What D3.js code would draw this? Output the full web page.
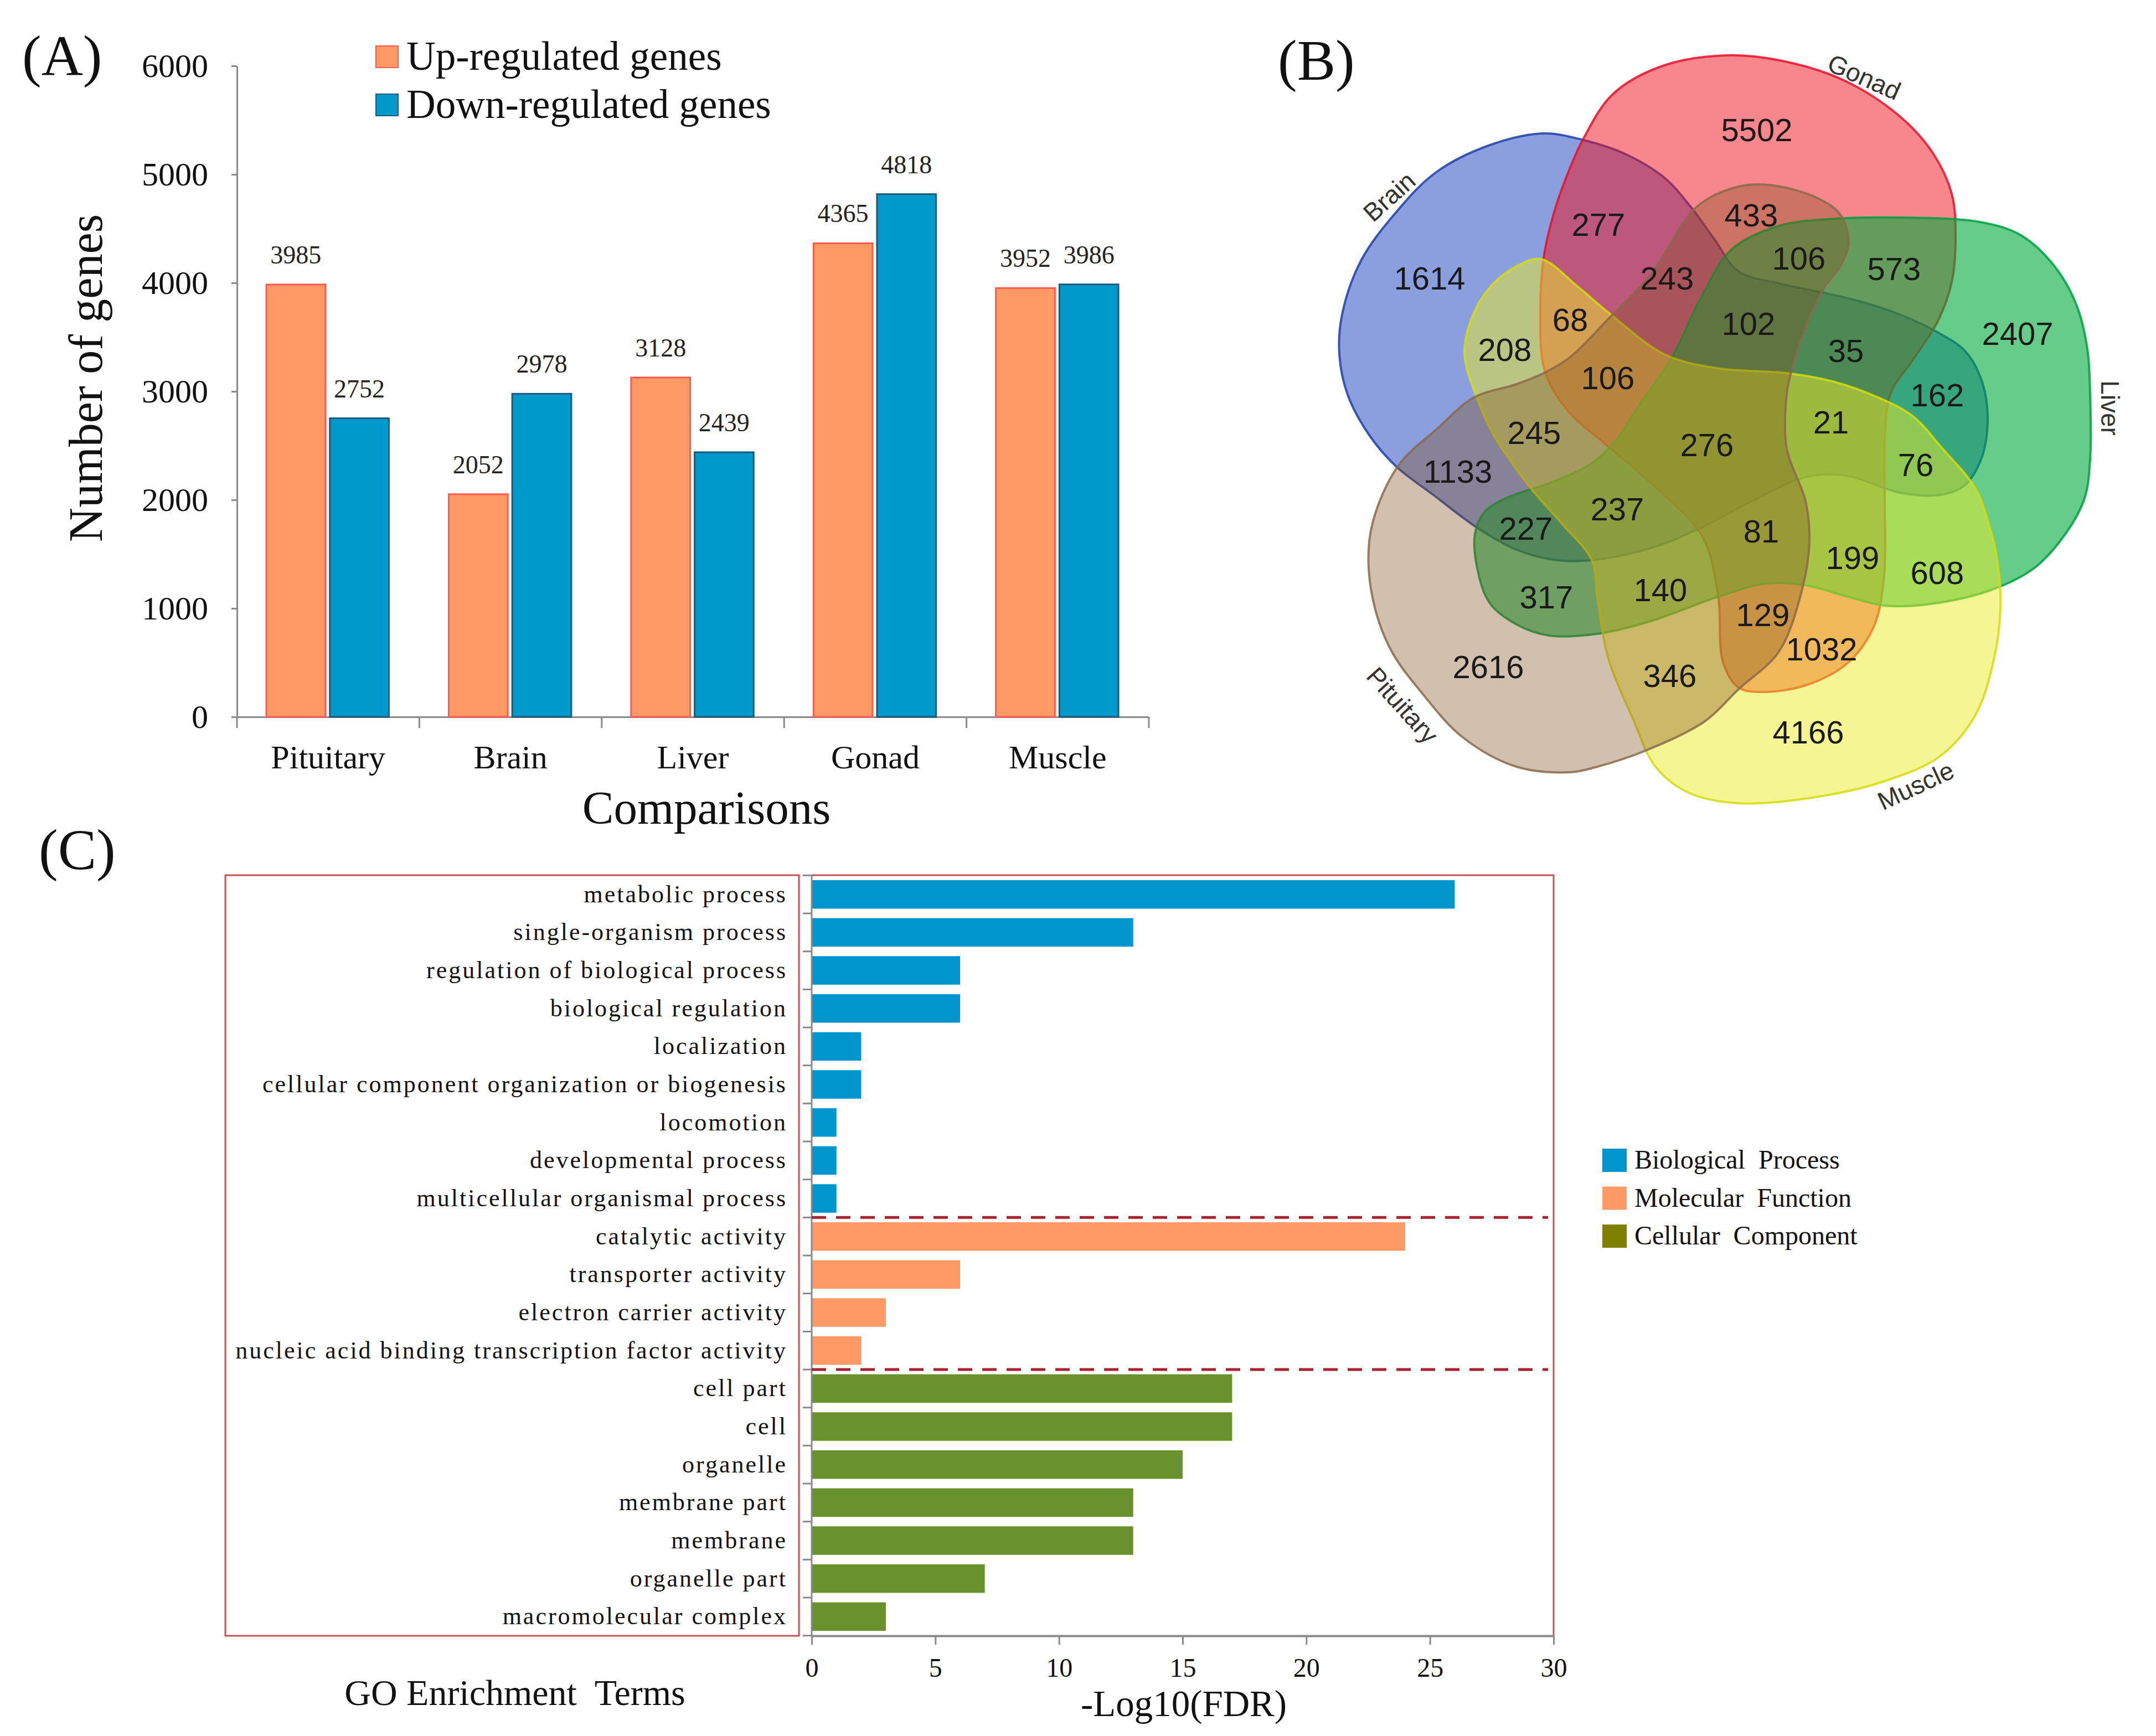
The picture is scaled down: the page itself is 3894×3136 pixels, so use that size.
<!DOCTYPE html>
<html>
<head>
<meta charset="utf-8">
<script src="https://cdn.jsdelivr.net/npm/d3@7"></script>
<style>
  html,body{margin:0;padding:0;background:#fff;}
  svg{display:block;}
</style>
</head>
<body>
<svg id="chart" width="3894" height="3136"></svg>
<script>
// ================= DATA =================
// Panel A
const categories = ["Pituitary", "Brain", "Liver", "Gonad", "Muscle"];
const upRegulated = [3985, 2052, 3128, 4365, 3952];
const downRegulated = [2752, 2978, 2439, 4818, 3986];
const seriesNames = ["Up-regulated genes", "Down-regulated genes"];
const yTicksA = [0, 1000, 2000, 3000, 4000, 5000, 6000];

// Panel B (Venn) – set names and region counts (B=Brain, G=Gonad, L=Liver, M=Muscle, P=Pituitary)
const vennSets = ["Brain", "Gonad", "Liver", "Muscle", "Pituitary"];
const vennRegionCodes = ["B","BG","G","GP","BGP","GLP","GL","L","BL","BGL","BGLP","BM","BGM","BGMP","BMP","BP",
                         "BLP","LP","BLMP","LMP","P","MP","GMP","GM","M","LM","GLM","GLMP","BLM","BGLM","BGLMP"];
const vennRegionCounts = [1614,277,5502,433,243,106,573,2407,162,35,102,208,68,106,245,1133,
                          227,317,237,140,2616,346,129,1032,4166,608,199,81,76,21,276];

// Panel C
const goTerms = ["metabolic process","single-organism process","regulation of biological process","biological regulation",
  "localization","cellular component organization or biogenesis","locomotion","developmental process",
  "multicellular organismal process","catalytic activity","transporter activity","electron carrier activity",
  "nucleic acid binding transcription factor activity","cell part","cell","organelle","membrane part","membrane",
  "organelle part","macromolecular complex"];
const goValues = [26,13,6,6,2,2,1,1,1,24,6,3,2,17,17,15,13,13,7,3];
const goCategory = ["Biological Process","Biological Process","Biological Process","Biological Process","Biological Process",
  "Biological Process","Biological Process","Biological Process","Biological Process",
  "Molecular Function","Molecular Function","Molecular Function","Molecular Function",
  "Cellular Component","Cellular Component","Cellular Component","Cellular Component","Cellular Component",
  "Cellular Component","Cellular Component"];
const goCategoryNames = ["Biological Process","Molecular Function","Cellular Component"];
const xTicksC = [0,5,10,15,20,25,30];

// ================= STYLE / LAYOUT =================
const SERIF = "'Liberation Serif','Times New Roman',serif";
const SANS = "'Liberation Sans',Arial,sans-serif";
const AXIS_GREY = "#8a8a8a";

const svg = d3.select("#chart");
svg.append("rect").attr("width",3894).attr("height",3136).attr("fill","#fff");

// panel letters
const panelLetters = [["(A)",40,136],["(B)",2308,144],["(C)",70,1570]];
svg.selectAll("text.panel").data(panelLetters).join("text")
  .attr("class","panel").attr("x",d=>d[1]).attr("y",d=>d[2])
  .attr("font-family",SERIF).attr("font-size",104).attr("fill","#111").text(d=>d[0]);

// ================= PANEL A =================
(function(){
  const A = {left:428, right:2075, top:119, bottom:1295};
  const x0 = d3.scaleBand().domain(categories).range([A.left, A.right]);
  const x1 = d3.scaleBand().domain(["up","down"]).range([53, x0.bandwidth()-55]).paddingInner(0.07);
  const y = d3.scaleLinear().domain([0,6000]).range([A.bottom, A.top]);
  const colors = {up:"#FF9966", down:"#0099CC"};
  const strokes = {up:"#FF5A50", down:"#1B5A78"};
  const g = svg.append("g");

  // y axis
  g.append("g").attr("transform",`translate(${A.left},0)`)
    .call(d3.axisLeft(y).tickValues(yTicksA).tickSize(10).tickSizeOuter(0).tickPadding(42).tickFormat(d3.format("d")))
    .call(ax=>{
      ax.select(".domain").attr("stroke",AXIS_GREY).attr("stroke-width",3);
      ax.selectAll(".tick line").attr("stroke",AXIS_GREY).attr("stroke-width",3);
      ax.selectAll("text").attr("font-family",SERIF).attr("font-size",60).attr("fill","#111");
    });

  // x axis (labels centred, ticks at boundaries)
  g.append("g").attr("transform",`translate(0,${A.bottom})`)
    .call(d3.axisBottom(x0).tickSize(0).tickSizeOuter(0).tickPadding(50))
    .call(ax=>{
      ax.select(".domain").attr("stroke",AXIS_GREY).attr("stroke-width",3);
      ax.selectAll("text").attr("font-family",SERIF).attr("font-size",60).attr("fill","#111");
    });
  const bounds = categories.map(c=>x0(c)).concat([x0(categories[categories.length-1])+x0.bandwidth()]);
  g.selectAll("line.xb").data(bounds).join("line").attr("class","xb")
    .attr("x1",d=>d).attr("x2",d=>d).attr("y1",A.bottom).attr("y2",A.bottom+20)
    .attr("stroke",AXIS_GREY).attr("stroke-width",3);

  // bars
  const rows = categories.map((c,i)=>({cat:c, vals:[{k:"up",v:upRegulated[i]},{k:"down",v:downRegulated[i]}]}));
  const grp = g.selectAll("g.cat").data(rows).join("g").attr("class","cat")
    .attr("transform",d=>`translate(${x0(d.cat)},0)`);
  grp.selectAll("rect").data(d=>d.vals).join("rect")
    .attr("x",d=>x1(d.k)).attr("width",x1.bandwidth())
    .attr("y",d=>y(d.v)).attr("height",d=>y(0)-y(d.v))
    .attr("fill",d=>colors[d.k]).attr("stroke",d=>strokes[d.k]).attr("stroke-width",3);
  grp.selectAll("text").data(d=>d.vals).join("text")
    .attr("x",d=>x1(d.k)+x1.bandwidth()/2).attr("y",d=>y(d.v)-38)
    .attr("text-anchor","middle").attr("font-family",SERIF).attr("font-size",46).attr("fill","#222")
    .text(d=>d.v);

  // axis titles
  g.append("text").attr("transform",`translate(184,683) rotate(-90)`).attr("text-anchor","middle")
    .attr("font-family",SERIF).attr("font-size",86).attr("fill","#111").text("Number of genes");
  g.append("text").attr("x",1276).attr("y",1488).attr("text-anchor","middle")
    .attr("font-family",SERIF).attr("font-size",85).attr("fill","#111").text("Comparisons");

  // legend
  const leg = g.selectAll("g.leg").data(seriesNames).join("g").attr("class","leg")
    .attr("transform",(d,i)=>`translate(679,${83+i*87})`);
  leg.append("rect").attr("width",40).attr("height",39)
    .attr("fill",(d,i)=>i?colors.down:colors.up).attr("stroke",(d,i)=>i?strokes.down:strokes.up).attr("stroke-width",2);
  leg.append("text").attr("x",55).attr("y",43).attr("font-family",SERIF).attr("font-size",73).attr("fill","#111").text(d=>d);
})();

// ================= PANEL B (Venn) =================
(function(){
  const shapeOutlines = {
    Brain: [[2788,241],[2860,253],[2933,277],[3006,321],[3054,374],[3095,430],[3140,490],[3213,512],[3285,527],[3358,544],
            [3431,568],[3499,600],[3550,635],[3580,690],[3590,760],[3578,830],[3547,878],[3504,894],[3431,890],[3334,859],
            [3261,862],[3165,905],[3069,955],[2982,990],[2875,1012],[2812,1012],[2739,993],[2669,954],[2590,895],[2521,842],
            [2473,786],[2434,713],[2419,640],[2424,568],[2458,471],[2521,384],[2594,311],[2691,262]],
    Gonad: [[2782,560],[2788,466],[2805,390],[2827,325],[2860,250],[2913,170],[3000,120],[3117,100],[3219,110],[3330,145],
            [3431,210],[3490,275],[3525,350],[3532,430],[3525,510],[3500,580],[3455,650],[3415,710],[3404,790],[3404,900],
            [3403,1040],[3385,1130],[3340,1195],[3270,1235],[3190,1250],[3140,1242],[3112,1196],[3103,1075],[3075,970],
            [2990,880],[2909,810],[2830,740],[2790,670]],
    Liver: [[3127,451],[3213,408],[3300,396],[3431,393],[3576,401],[3650,425],[3710,480],[3750,550],[3770,630],[3775,713],
            [3775,830],[3765,900],[3730,965],[3673,1027],[3590,1068],[3479,1092],[3404,1094],[3334,1077],[3265,1058],[3190,1054],
            [3103,1078],[2982,1122],[2885,1145],[2797,1148],[2739,1128],[2691,1090],[2669,1031],[2664,964],[2681,925],[2720,900],
            [2800,872],[2870,840],[2915,800],[2957,737],[3020,645],[3069,544]],
    Muscle: [[2783,468],[2851,519],[2909,568],[3006,640],[3100,665],[3227,674],[3310,689],[3392,718],[3455,752],[3508,810],
            [3567,881],[3590,940],[3607,1010],[3613,1099],[3600,1196],[3567,1293],[3504,1366],[3407,1410],[3285,1439],[3140,1451],
            [3050,1432],[2990,1385],[2950,1300],[2905,1190],[2885,1080],[2875,1012],[2820,945],[2764,881],[2700,790],[2667,718],
            [2645,640],[2657,577],[2691,519],[2739,481]],
    Pituitary: [[3064,374],[3140,337],[3203,335],[3285,359],[3324,388],[3339,437],[3324,481],[3295,519],[3261,592],[3237,665],
            [3227,713],[3227,810],[3261,905],[3268,978],[3256,1060],[3213,1177],[3140,1245],[3079,1303],[2972,1356],[2885,1385],
            [2836,1395],[2739,1385],[2642,1332],[2570,1254],[2511,1172],[2478,1075],[2473,978],[2492,905],[2531,834],[2594,776],
            [2662,718],[2739,694],[2788,674],[2836,645],[2904,577],[2982,495]]
  };
  const shapeStyle = {
    Brain:     {fill:"#2046C0", op:0.52, stroke:"#1F3FA8"},
    Gonad:     {fill:"#F0101A", op:0.50, stroke:"#E8102A"},
    Liver:     {fill:"#00AA3C", op:0.60, stroke:"#00A040"},
    Muscle:    {fill:"#EBEB28", op:0.50, stroke:"#D4DC10"},
    Pituitary: {fill:"#82501E", op:0.36, stroke:"#8B6A4A"}
  };
  const labelPos = {
    Brain:{x:2509,y:355,r:-42}, Gonad:{x:3367,y:139,r:24}, Liver:{x:3811,y:737,r:90},
    Muscle:{x:3460,y:1419,r:-25}, Pituitary:{x:2533,y:1274,r:48}
  };
  const regionPos = {
    B:[2582,502], BG:[2887,405], G:[3173,234], GP:[3163,388], BGP:[3011,502], GLP:[3249,466], GL:[3421,485],
    L:[3644,602], BL:[3499,713], BGL:[3334,633], BGLP:[3158,584], BM:[2718,631], BGM:[2836,577], BGMP:[2904,682],
    BMP:[2771,781], BP:[2633,851], BLP:[2756,954], LP:[2793,1078], BLMP:[2921,919], LMP:[2999,1065], P:[2688,1204],
    MP:[3016,1220], GMP:[3184,1110], GM:[3290,1172], M:[3266,1322], LM:[3499,1034], GLM:[3346,1007], GLMP:[3181,959],
    BLM:[3460,839], BGLM:[3307,762], BGLMP:[3083,803]
  };
  const drawOrder = ["Brain","Gonad","Liver","Muscle","Pituitary"];
  const line = d3.line().curve(d3.curveCatmullRomClosed.alpha(0.5));
  const g = svg.append("g");
  g.selectAll("path.set").data(drawOrder.filter(s=>vennSets.includes(s))).join("path").attr("class","set")
    .attr("d",s=>line(shapeOutlines[s]))
    .attr("fill",s=>shapeStyle[s].fill).attr("fill-opacity",s=>shapeStyle[s].op)
    .attr("stroke",s=>shapeStyle[s].stroke).attr("stroke-width",4).attr("stroke-opacity",0.85);

  g.selectAll("text.cnt").data(vennRegionCodes.map((c,i)=>({c, n:vennRegionCounts[i]}))).join("text").attr("class","cnt")
    .attr("x",d=>regionPos[d.c][0]).attr("y",d=>regionPos[d.c][1]).attr("dy","0.36em")
    .attr("text-anchor","middle").attr("font-family",SANS).attr("font-size",58).attr("fill","#1a1a1a")
    .text(d=>d.n);

  g.selectAll("text.setlab").data(vennSets).join("text").attr("class","setlab")
    .attr("transform",s=>`translate(${labelPos[s].x},${labelPos[s].y}) rotate(${labelPos[s].r})`)
    .attr("dy","0.35em").attr("text-anchor","middle").attr("font-family",SANS).attr("font-size",46).attr("fill","#333")
    .text(s=>s);
})();

// ================= PANEL C =================
(function(){
  const C = {left:1466, right:2806, top:1581, bottom:2955};
  const x = d3.scaleLinear().domain([0,30]).range([C.left, C.right]);
  const y = d3.scaleBand().domain(goTerms).range([C.top, C.bottom]).paddingInner(0.25).paddingOuter(0.13);
  const catColor = d3.scaleOrdinal().domain(goCategoryNames).range(["#0096CD","#FF9966","#69912D"]);
  const legColor = d3.scaleOrdinal().domain(goCategoryNames).range(["#0096CD","#FF9966","#7F8000"]);
  const BOX = "#C8505A";
  const g = svg.append("g");

  // label frame
  g.append("rect").attr("x",407).attr("y",C.top).attr("width",1443-407).attr("height",C.bottom-C.top)
    .attr("fill","none").attr("stroke",BOX).attr("stroke-width",3);
  // plot frame top/right
  g.append("path").attr("d",`M${C.left},${C.top}H${C.right}V${C.bottom}`).attr("fill","none").attr("stroke",BOX).attr("stroke-width",3);

  // bars
  const rows = goTerms.map((t,i)=>({t, v:goValues[i], c:goCategory[i]}));
  g.selectAll("rect.bar").data(rows).join("rect").attr("class","bar")
    .attr("x",x(0)).attr("y",d=>y(d.t)).attr("width",d=>x(d.v)-x(0)).attr("height",y.bandwidth())
    .attr("fill",d=>catColor(d.c));

  // labels
  g.selectAll("text.term").data(rows).join("text").attr("class","term")
    .attr("x",1422).attr("y",d=>y(d.t)+y.bandwidth()/2).attr("dy","0.32em")
    .attr("text-anchor","end").attr("font-family",SERIF).attr("font-size",44).attr("letter-spacing",3)
    .attr("fill","#111").text(d=>d.t);

  // y axis line + boundary ticks
  const half = y.step()*y.paddingInner()/2;
  const yb = goTerms.map(t=>y(t)-half).concat([y(goTerms[goTerms.length-1])+y.bandwidth()+half]);
  g.append("line").attr("x1",C.left).attr("x2",C.left).attr("y1",C.top).attr("y2",C.bottom)
    .attr("stroke",AXIS_GREY).attr("stroke-width",3);
  g.selectAll("line.yb").data(yb).join("line").attr("class","yb")
    .attr("x1",C.left-16).attr("x2",C.left).attr("y1",d=>d).attr("y2",d=>d)
    .attr("stroke",AXIS_GREY).attr("stroke-width",3);

  // separator dashed lines between categories
  const firstOf = goCategoryNames.slice(1).map(cn=>goTerms[goCategory.indexOf(cn)]);
  g.selectAll("line.sep").data(firstOf).join("line").attr("class","sep")
    .attr("x1",C.left).attr("x2",2796).attr("y1",t=>y(t)-half).attr("y2",t=>y(t)-half)
    .attr("stroke","#A8232E").attr("stroke-width",5).attr("stroke-dasharray","26,18");

  // x axis
  g.append("g").attr("transform",`translate(0,${C.bottom})`)
    .call(d3.axisBottom(x).tickValues(xTicksC).tickSize(16).tickSizeOuter(0).tickPadding(24))
    .call(ax=>{
      ax.select(".domain").attr("stroke",AXIS_GREY).attr("stroke-width",4);
      ax.selectAll(".tick line").attr("stroke",AXIS_GREY).attr("stroke-width",3);
      ax.selectAll("text").attr("font-family",SERIF).attr("font-size",48).attr("fill","#111");
    });

  // titles
  g.append("text").attr("x",2138).attr("y",3100).attr("text-anchor","middle")
    .attr("font-family",SERIF).attr("font-size",67).attr("fill","#111").text("-Log10(FDR)");
  g.append("text").attr("x",930).attr("y",3080).attr("text-anchor","middle").attr("xml:space","preserve")
    .style("white-space","pre").attr("font-family",SERIF).attr("font-size",66).attr("fill","#111").text("GO Enrichment  Terms");

  // legend
  const legLabels = ["Biological  Process","Molecular  Function","Cellular  Component"];
  const leg = g.selectAll("g.legc").data(goCategoryNames).join("g").attr("class","legc")
    .attr("transform",(d,i)=>`translate(2894,${2075+i*68.5})`);
  leg.append("rect").attr("width",44).attr("height",42).attr("fill",d=>legColor(d));
  leg.append("text").attr("x",58).attr("y",36).style("white-space","pre")
    .attr("font-family",SERIF).attr("font-size",48).attr("fill","#111").text((d,i)=>legLabels[i]);
})();
</script>
</body>
</html>
